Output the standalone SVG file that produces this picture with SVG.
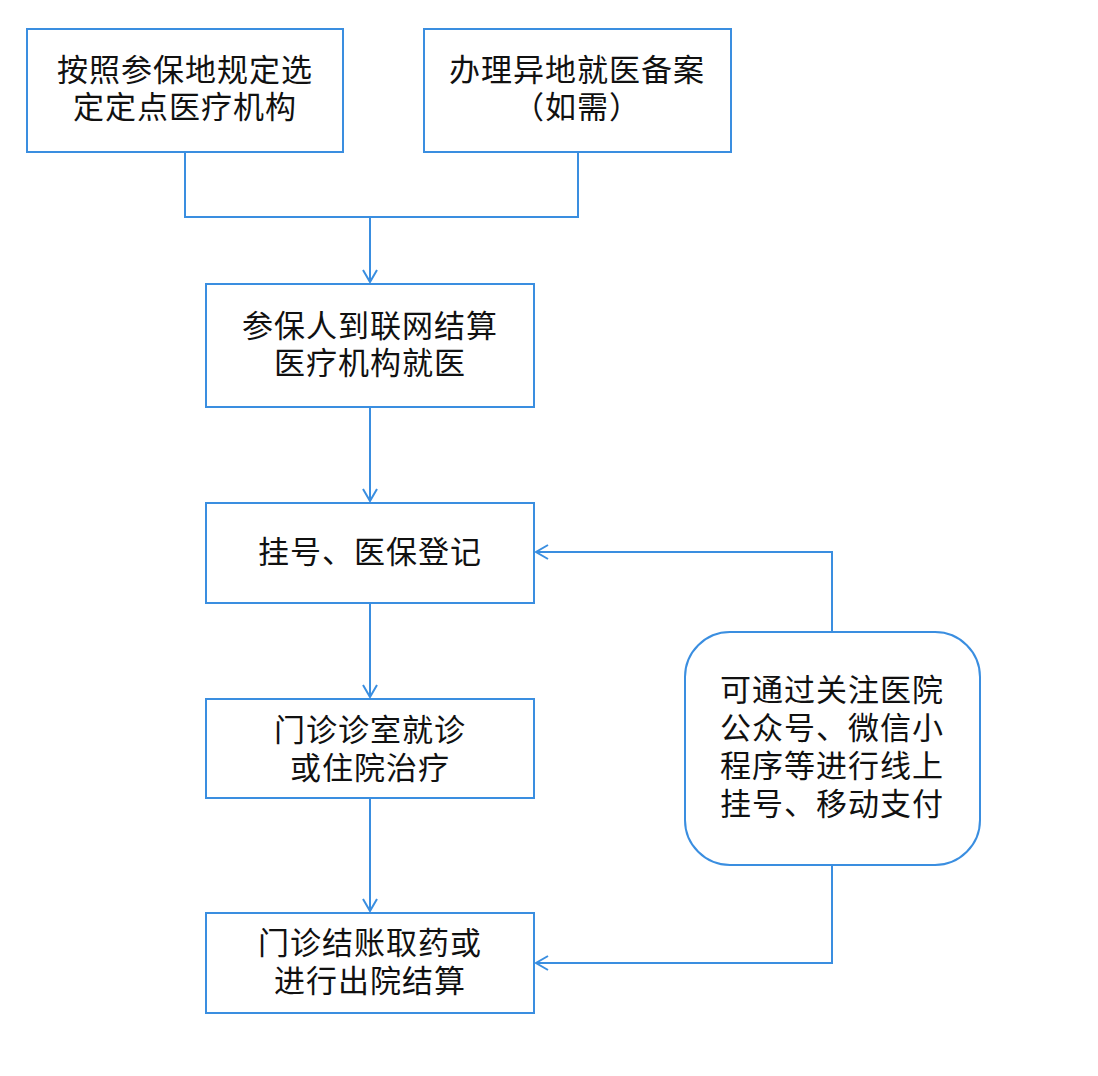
<svg xmlns="http://www.w3.org/2000/svg" width="1098" height="1076" viewBox="0 0 1098 1076">
<style>
.box{fill:#fff;stroke:#3a8ee0;stroke-width:2}
.ln{fill:none;stroke:#3a8ee0;stroke-width:2}
text{font-family:"Liberation Serif","Noto Sans CJK SC","Noto Sans CJK JP",sans-serif;font-size:31px;fill:#111;text-anchor:middle;dominant-baseline:central;letter-spacing:1px}
</style>
<defs>
<marker id="ah" markerWidth="16" markerHeight="16" refX="13" refY="8" orient="auto" markerUnits="userSpaceOnUse">
<path d="M1,1 L13,8 L1,15" fill="none" stroke="#3a8ee0" stroke-width="2"/>
</marker>
</defs>
<rect width="1098" height="1076" fill="#fff"/>
<g id="connectors">
<path class="ln" d="M185,152 V217 H578 V152"/>
<path class="ln" d="M370,217 V282" marker-end="url(#ah)"/>
<path class="ln" d="M370,407 V501" marker-end="url(#ah)"/>
<path class="ln" d="M370,603 V697" marker-end="url(#ah)"/>
<path class="ln" d="M370,798 V911" marker-end="url(#ah)"/>
<path class="ln" d="M832,632 V552 H536" marker-end="url(#ah)"/>
<path class="ln" d="M832,865 V963 H536" marker-end="url(#ah)"/>
</g>
<g id="n1"><rect class="box" x="27" y="29" width="316" height="123"/><text x="185" y="70">按照参保地规定选</text><text x="185" y="107">定定点医疗机构</text></g>
<g id="n2"><rect class="box" x="424" y="29" width="307" height="123"/><text x="577" y="70">办理异地就医备案</text><text x="577" y="107">（如需）</text></g>
<g id="n3"><rect class="box" x="206" y="284" width="328" height="123"/><text x="370" y="326">参保人到联网结算</text><text x="370" y="363">医疗机构就医</text></g>
<g id="n4"><rect class="box" x="206" y="503" width="328" height="100"/><text x="370" y="552">挂号、医保登记</text></g>
<g id="n5"><rect class="box" x="206" y="699" width="328" height="99"/><text x="370" y="730">门诊诊室就诊</text><text x="370" y="768">或住院治疗</text></g>
<g id="n6"><rect class="box" x="206" y="913" width="328" height="100"/><text x="370" y="943">门诊结账取药或</text><text x="370" y="981">进行出院结算</text></g>
<g id="n7"><rect class="box" x="685" y="632" width="295" height="233" rx="45"/><text x="832" y="690">可通过关注医院</text><text x="832" y="728">公众号、微信小</text><text x="832" y="766">程序等进行线上</text><text x="832" y="804">挂号、移动支付</text></g>
</svg>
